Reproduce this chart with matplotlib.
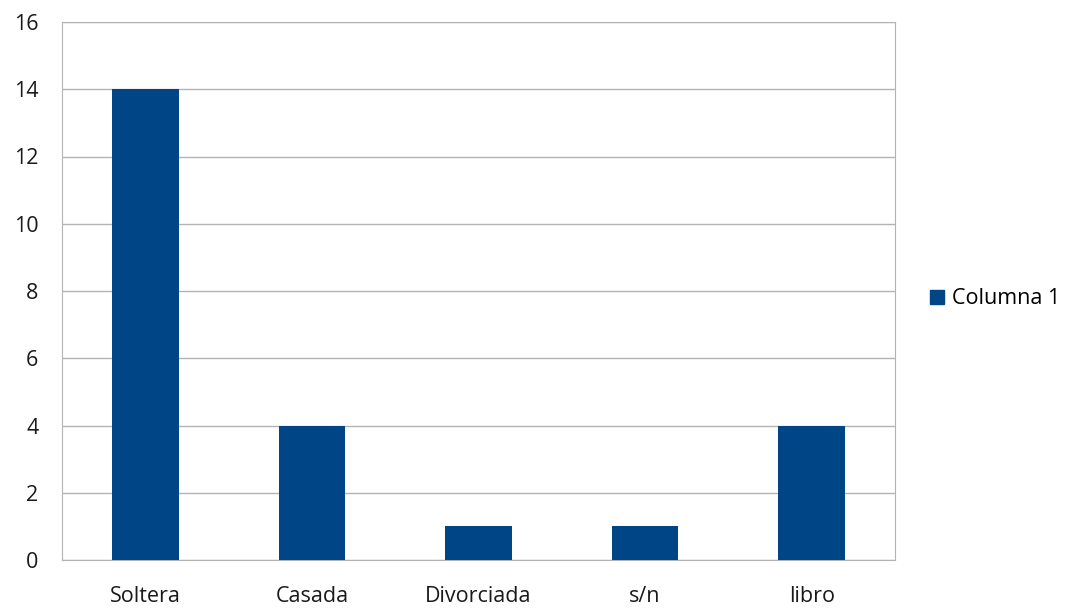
import matplotlib.pyplot as plt
from matplotlib.lines import Line2D

categorias = ['Soltera', 'Casada', 'Divorciada', 's/n', 'libro']
columna_1 = [14, 4, 1, 1, 4]
yticks = [0, 2, 4, 6, 8, 10, 12, 14, 16]

plt.rcParams['font.family'] = ['Open Sans', 'DejaVu Sans']

fig = plt.figure(figsize=(10.73, 6.12), dpi=100)
ax = fig.add_axes([62 / 1073, 52 / 612, 833 / 1073, 538 / 612])

x = range(len(categorias))
ax.bar(x, columna_1, width=0.4, color='#004586', zorder=3)

ax.set_xlim(-0.5, len(categorias) - 0.5)
ax.set_ylim(0, 16)
ax.set_yticks(yticks)
ax.set_xticks(list(x))
ax.set_xticklabels(categorias)
ax.grid(axis='y', color='#b3b3b3', linewidth=1, zorder=0)
for s in ax.spines.values():
    s.set_color('#b3b3b3')
ax.tick_params(length=0, labelsize=15.5, colors='#1a1a1a')
ax.tick_params(axis='x', pad=19)
ax.tick_params(axis='y', pad=17)

marca = Line2D([], [], marker='s', linestyle='none', color='#004586', markersize=10)
fig.legend([marca], ['Columna 1'], loc='center left', bbox_to_anchor=(905 / 1073, 1 - 299 / 612),
           frameon=False, fontsize=15.5, handletextpad=0.1, handlelength=1.2)

fig.savefig('out.png', dpi=100)
